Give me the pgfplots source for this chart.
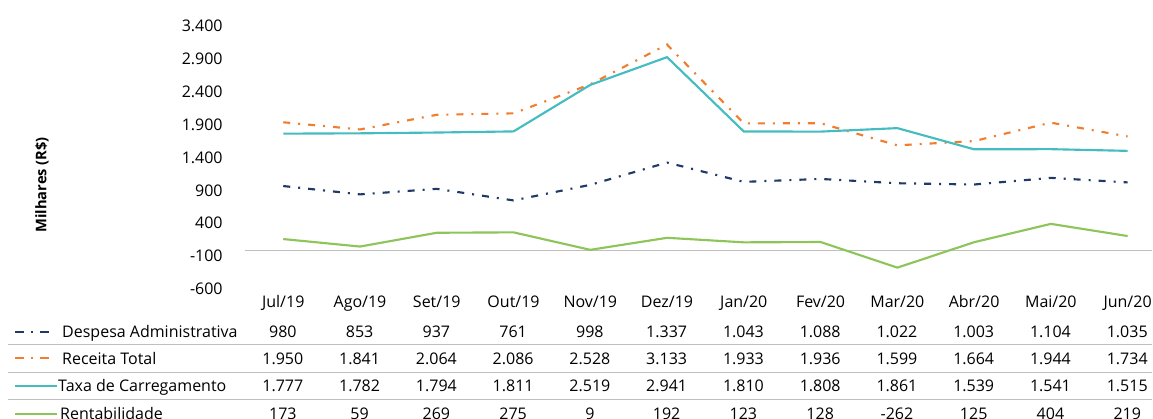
\documentclass[border=0pt]{standalone}
\usepackage{pgfplots}
\pgfplotsset{compat=1.18}
\usepackage{fontspec}
\setmainfont{Open Sans}
\definecolor{cnavy}{HTML}{1F3A66}
\definecolor{corange}{HTML}{F07E2E}
\definecolor{cteal}{HTML}{45BCC0}
\definecolor{cgreen}{HTML}{8DC55A}
\definecolor{cgrid}{HTML}{BFBFBF}
\pgfkeys{/pgf/number format/.cd,1000 sep={.},assume math mode=true}
\begin{document}
\begin{tikzpicture}[font=\fontsize{12}{14}\selectfont]
\begin{axis}[
  at={(183.75pt,-217.5pt)}, anchor=south west,
  scale only axis, width=681pt, height=197.25pt,
  xmin=-0.5, xmax=11.323, ymin=-600, ymax=3400,
  ytick={-600,-100,...,3400},
  xtick={0,...,11},
  xticklabels={Jul/19,Ago/19,Set/19,Out/19,Nov/19,Dez/19,Jan/20,Fev/20,Mar/20,Abr/20,Mai/20,Jun/20},
  axis line style={draw=none},
  major tick length=0pt,
  tick label style={font=\fontsize{12}{14}\selectfont},
  yticklabel style={anchor=east, inner sep=0pt, xshift=-16.5pt, yshift=0.75pt,
     /pgf/number format/.cd,1000 sep={.},assume math mode=true},
  xticklabel style={anchor=base, inner sep=0pt, yshift=-13.5pt},
  extra y ticks={0}, extra y tick labels={},
  extra y tick style={grid=major, major grid style={color=cgrid, line width=0.9pt}},
  clip=false,
]
\addplot[cnavy, line width=1.6pt, dash pattern=on 5.25pt off 6pt on 1.5pt off 6pt] coordinates {
 (0,980) (1,853) (2,937) (3,761) (4,998) (5,1337) (6,1043) (7,1088) (8,1022) (9,1003) (10,1104) (11,1035)};
\addplot[corange, line width=1.6pt, dash pattern=on 5.25pt off 6pt on 1.5pt off 6pt] coordinates {
 (0,1950) (1,1841) (2,2064) (3,2086) (4,2528) (5,3133) (6,1933) (7,1936) (8,1599) (9,1664) (10,1944) (11,1734)};
\addplot[cteal, line width=1.6pt] coordinates {
 (0,1777) (1,1782) (2,1794) (3,1811) (4,2519) (5,2941) (6,1810) (7,1808) (8,1861) (9,1539) (10,1541) (11,1515)};
\addplot[cgreen, line width=1.6pt] coordinates {
 (0,173) (1,59) (2,269) (3,275) (4,9) (5,192) (6,123) (7,128) (8,-262) (9,125) (10,404) (11,219)};
\end{axis}
\begin{scope}[x=0.75pt,y=-0.75pt]
\useasboundingbox (0,0) rectangle (1153,419);
\node[rotate=90, font=\bfseries\fontsize{11}{13}\selectfont] at (42,185) {Milhares (R\$)};
% separators
\foreach \yy in {345,372.7,400} {\draw[cgrid, line width=0.75pt] (8,\yy) -- (1153,\yy);}
% legend samples and labels
\draw[cnavy, line width=1.6pt, dash pattern=on 6.75pt off 5.25pt on 1.5pt off 5.25pt] (15,332) -- (50,332);
\draw[corange, line width=1.6pt, dash pattern=on 6.75pt off 5.25pt on 1.5pt off 5.25pt] (15,358.5) -- (50,358.5);
\draw[cteal, line width=1.6pt] (15,386) -- (57,386);
\draw[cgreen, line width=1.6pt] (15,414) -- (57,414);
\node[anchor=base west, inner sep=0pt] at (62,338) {Despesa Administrativa};
\node[anchor=base west, inner sep=0pt] at (62,364.5) {Receita Total};
\node[anchor=base west, inner sep=0pt] at (58,392) {Taxa de Carregamento};
\node[anchor=base west, inner sep=0pt] at (60,420) {Rentabilidade};
% table values
\foreach \v [count=\i from 0] in {980,853,937,761,998,1337,1043,1088,1022,1003,1104,1035}
  {\node[anchor=base, inner sep=0pt] at ({283+76.8*\i},338) {\pgfmathprintnumber{\v}};}
\foreach \v [count=\i from 0] in {1950,1841,2064,2086,2528,3133,1933,1936,1599,1664,1944,1734}
  {\node[anchor=base, inner sep=0pt] at ({283+76.8*\i},364.5) {\pgfmathprintnumber{\v}};}
\foreach \v [count=\i from 0] in {1777,1782,1794,1811,2519,2941,1810,1808,1861,1539,1541,1515}
  {\node[anchor=base, inner sep=0pt] at ({283+76.8*\i},392) {\pgfmathprintnumber{\v}};}
\foreach \v [count=\i from 0] in {173,59,269,275,9,192,123,128,-262,125,404,219}
  {\node[anchor=base, inner sep=0pt] at ({283+76.8*\i},420) {\pgfmathprintnumber{\v}};}
\end{scope}
\end{tikzpicture}
\end{document}
